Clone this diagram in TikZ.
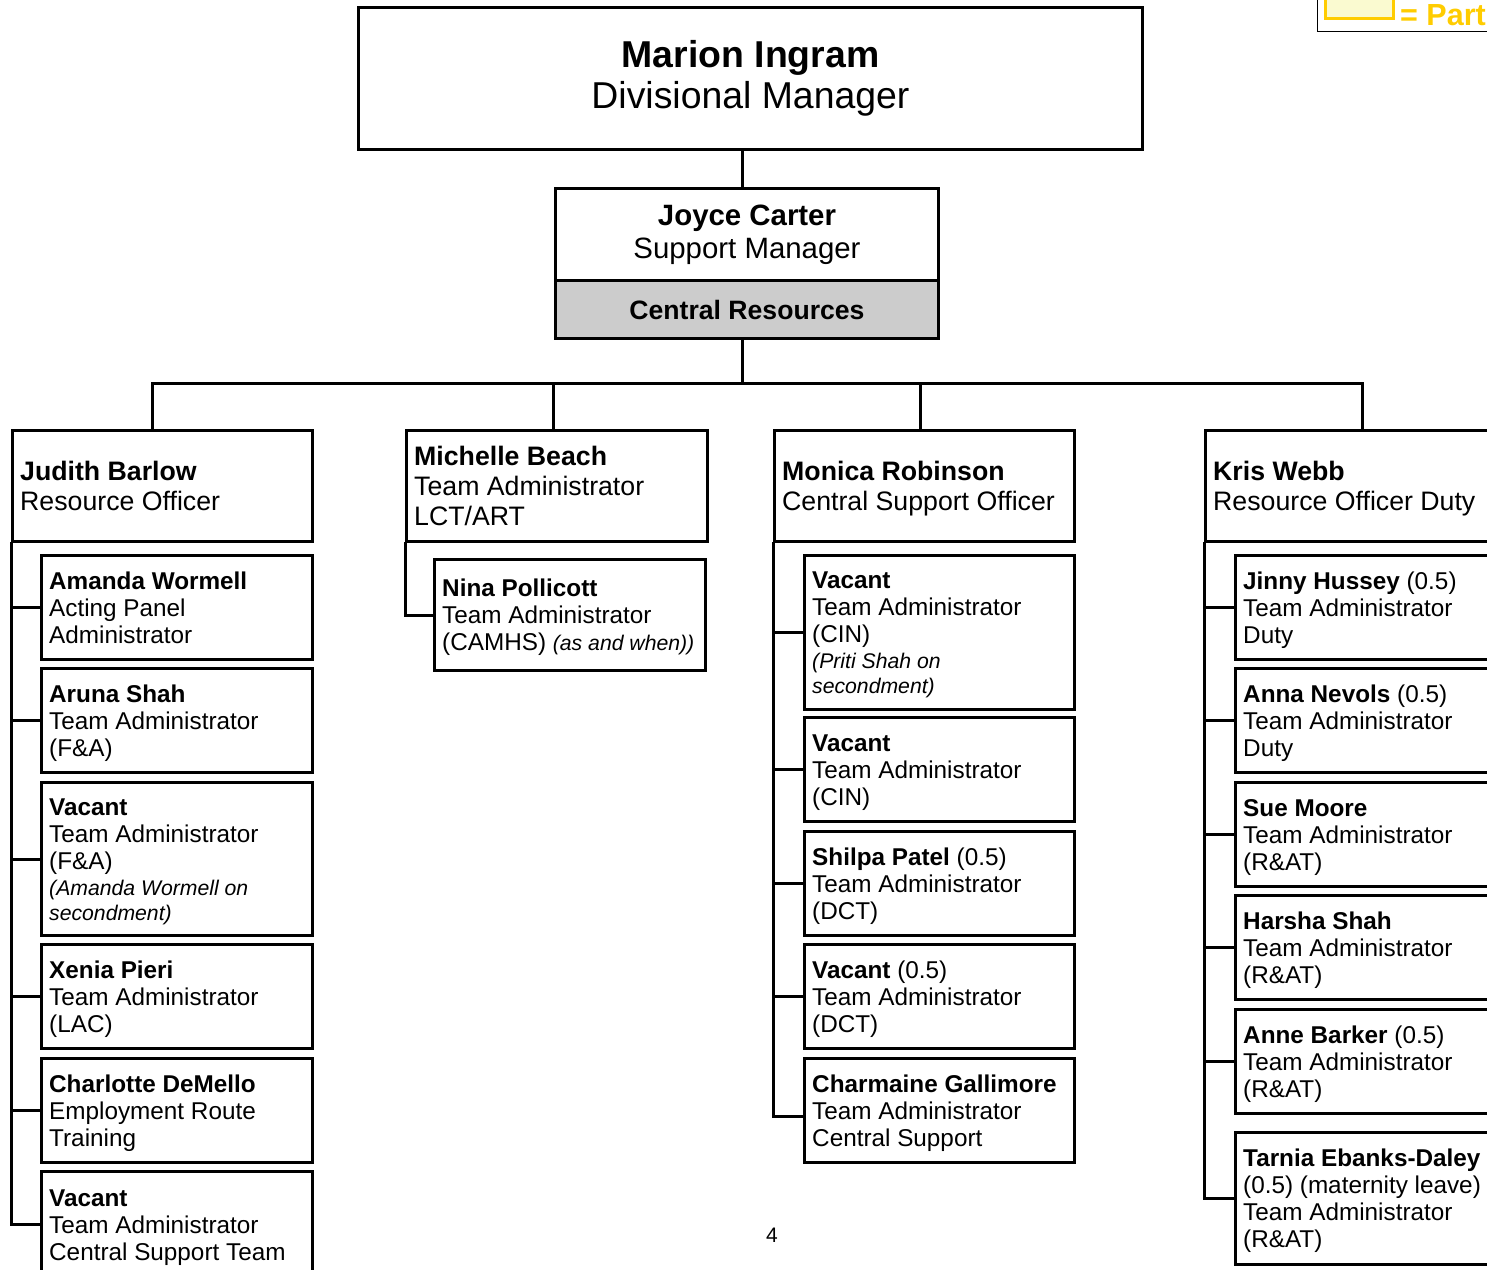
\documentclass[tikz,border=0pt]{standalone}
\usepackage{fontspec}
\setmainfont{Liberation Sans}
\definecolor{crgrey}{RGB}{204,204,204}
\definecolor{gold}{RGB}{255,204,0}
\definecolor{paleyellow}{RGB}{250,250,208}
\newcommand\orgbox[7]{%
  \node[frame, minimum width=#4pt-#2pt, minimum height=#5pt-#3pt, anchor=north west] (#1) at (#2,#3) {};
  \node[#6, anchor=west] (#1t) at ([xshift=9pt]#1.west) {\strut#7\strut};}
\newcommand\smit[1]{{\fontsize{21.2}{25}\selectfont\itshape #1}}
\newcommand\hf{\fontsize{26.7}{30}\selectfont}
\begin{document}
\begin{tikzpicture}[x=1pt,y=-1pt,
  frame/.style={draw, line width=3pt, rectangle, inner sep=0pt, fill=white},
  kidtext/.style={inner sep=0pt, align=left, yshift=-3.5pt, font=\fontsize{24.3}{27}\selectfont},
  hdrtext/.style={inner sep=0pt, align=left, yshift=-3.7pt, font=\fontsize{26.7}{30}\selectfont},
  conn/.style={line width=3pt, line cap=rect},
]
\useasboundingbox (0,0) rectangle (1487,1269);
\clip (0,0) rectangle (1487,1269);

% legend
\node[draw, line width=1.2pt, inner sep=0pt, minimum width=200pt, minimum height=42pt, anchor=south west] (legend) at (1317,32) {};
\node[draw=gold, fill=paleyellow, line width=3pt, inner sep=0pt, minimum width=68pt, minimum height=30pt, anchor=south west] (legsw) at (1324,20) {};
\node[anchor=base west, inner sep=0pt, text=gold, font=\fontsize{30.5}{35}\selectfont\bfseries] (legtext) at (1400,25) {= Part};

% top
\node[frame, minimum width=784pt, minimum height=142pt, anchor=north west, align=center,
  font=\fontsize{37.4}{41}\selectfont] (marion) at (357,6) {\textbf{Marion Ingram}\\Divisional Manager};
\node[frame, minimum width=383pt, minimum height=92pt, anchor=north west, align=center,
  font=\fontsize{29.4}{33}\selectfont] (joyce) at (554,187) {\textbf{Joyce Carter}\\Support Manager};
\node[frame, fill=crgrey, minimum width=383pt, minimum height=58pt, anchor=north west,
  font=\fontsize{26.6}{30}\selectfont\bfseries] (cr) at (554,279) {Central Resources};

\coordinate (bus) at (742,383);
\coordinate (d1) at (152,383);
\coordinate (d2) at (553,383);
\coordinate (d3) at (920,383);
\coordinate (d4) at (1362,383);

% headers
\orgbox{judith}{11}{429}{311}{540}{hdrtext}{\hf\textbf{Judith Barlow}\\\hf Resource Officer}
\orgbox{michelle}{405}{429}{706}{540}{hdrtext}{\hf\textbf{Michelle Beach}\\\hf Team Administrator\\\hf LCT/ART}
\orgbox{monica}{773}{429}{1073}{540}{hdrtext}{\hf\textbf{Monica Robinson}\\\hf Central Support Officer}
\orgbox{kris}{1204}{429}{1504}{540}{hdrtext}{\hf\textbf{Kris Webb}\\\hf Resource Officer Duty}

% left column
\orgbox{l1}{40}{554}{311}{658}{kidtext}{\textbf{Amanda Wormell}\\Acting Panel\\Administrator}
\orgbox{l2}{40}{667}{311}{771}{kidtext}{\textbf{Aruna Shah}\\Team Administrator\\(F\&A)}
\orgbox{l3}{40}{781}{311}{934}{kidtext}{\textbf{Vacant}\\Team Administrator\\(F\&A)\\[-1pt]\smit{(Amanda Wormell on}\\[-2pt]\smit{secondment)}}
\orgbox{l4}{40}{943}{311}{1047}{kidtext}{\textbf{Xenia Pieri}\\Team Administrator\\(LAC)}
\orgbox{l5}{40}{1057}{311}{1161}{kidtext}{\textbf{Charlotte DeMello}\\Employment Route\\Training}
\orgbox{l6}{40}{1170}{311}{1276}{kidtext}{\textbf{Vacant}\\Team Administrator\\Central Support Team}

% Michelle
\orgbox{nina}{433}{558}{704}{669}{kidtext}{\textbf{Nina Pollicott}\\Team Administrator\\(CAMHS) \smit{(as and when))}}

% Monica column
\orgbox{m1}{803}{554}{1073}{708}{kidtext}{\textbf{Vacant}\\Team Administrator\\(CIN)\\[-1pt]\smit{(Priti Shah on}\\[-2pt]\smit{secondment)}}
\orgbox{m2}{803}{716}{1073}{820}{kidtext}{\textbf{Vacant}\\Team Administrator\\(CIN)}
\orgbox{m3}{803}{830}{1073}{934}{kidtext}{\textbf{Shilpa Patel} (0.5)\\Team Administrator\\(DCT)}
\orgbox{m4}{803}{943}{1073}{1047}{kidtext}{\textbf{Vacant} (0.5)\\Team Administrator\\(DCT)}
\orgbox{m5}{803}{1057}{1073}{1161}{kidtext}{\textbf{Charmaine Gallimore}\\Team Administrator\\Central Support}

% Kris column
\orgbox{k1}{1234}{554}{1505}{658}{kidtext}{\textbf{Jinny Hussey} (0.5)\\Team Administrator\\Duty}
\orgbox{k2}{1234}{667}{1505}{771}{kidtext}{\textbf{Anna Nevols} (0.5)\\Team Administrator\\Duty}
\orgbox{k3}{1234}{781}{1505}{885}{kidtext}{\textbf{Sue Moore}\\Team Administrator\\(R\&AT)}
\orgbox{k4}{1234}{894}{1505}{998}{kidtext}{\textbf{Harsha Shah}\\Team Administrator\\(R\&AT)}
\orgbox{k5}{1234}{1008}{1505}{1112}{kidtext}{\textbf{Anne Barker} (0.5)\\Team Administrator\\(R\&AT)}
\orgbox{k6}{1234}{1131}{1505}{1263}{kidtext}{\textbf{Tarnia Ebanks-Daley}\\(0.5) (maternity leave)\\Team Administrator\\(R\&AT)}

% page number
\node[inner sep=0pt, font=\fontsize{21}{25}\selectfont] (pageno) at (772,1235) {4};

% connectors
\draw[conn] (bus |- marion.south) -- (bus |- joyce.north);
\draw[conn] (bus |- cr.south) -- (bus);
\draw[conn] (d1) -- (d4);
\draw[conn] (d1) -- (d1 |- judith.north);
\draw[conn] (d2) -- (d2 |- michelle.north);
\draw[conn] (d3) -- (d3 |- monica.north);
\draw[conn] (d4) -- (d4 |- kris.north);

\draw[conn] (judith.south west) |- (l6.west);
\foreach \c in {l1,l2,l3,l4,l5} \draw[conn] (judith.south west |- \c.west) -- (\c.west);
\draw[conn] (michelle.south west) |- (nina.west);
\draw[conn] (monica.south west) |- ([yshift=-6pt]m5.west);
\foreach \c in {m1,m2,m3,m4} \draw[conn] (monica.south west |- \c.west) -- (\c.west);
\draw[conn] (kris.south west) |- (k6.west);
\foreach \c in {k1,k2,k3,k4,k5} \draw[conn] (kris.south west |- \c.west) -- (\c.west);
\end{tikzpicture}
\end{document}
